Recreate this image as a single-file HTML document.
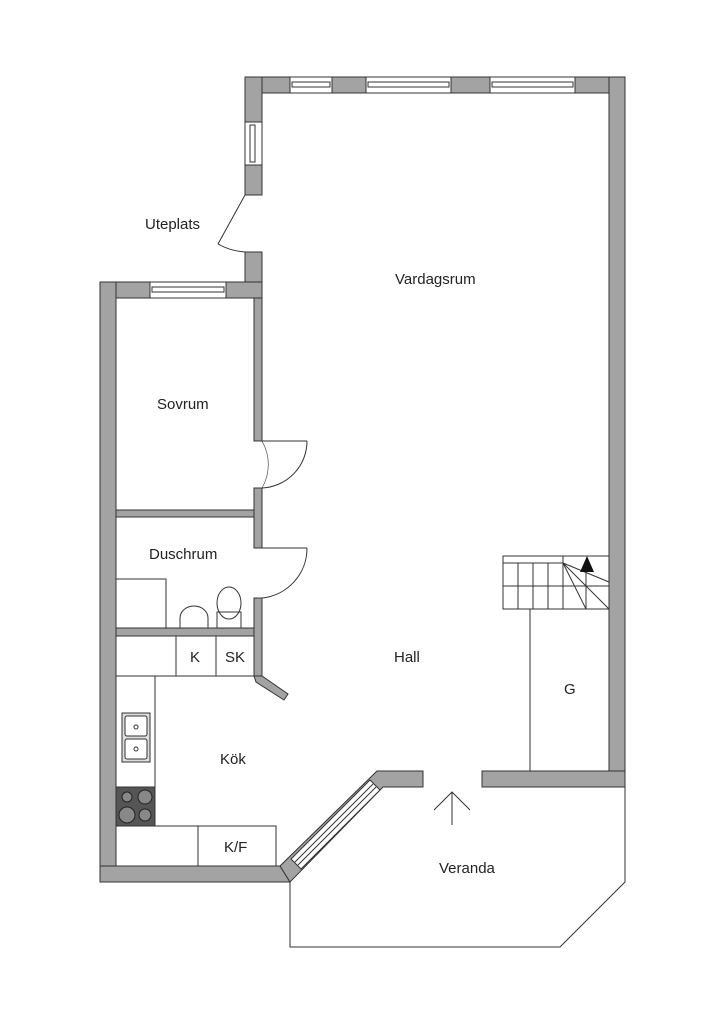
<!DOCTYPE html>
<html><head><meta charset="utf-8"><style>
html,body{margin:0;padding:0;background:#fff;}
svg{display:block;}
text{font-family:"Liberation Sans",sans-serif;font-size:15px;fill:#222;}
</style></head><body>
<svg width="724" height="1024" viewBox="0 0 724 1024" xmlns="http://www.w3.org/2000/svg">
<g fill="#a3a3a3" stroke="#333" stroke-width="1">
<rect x="245" y="77" width="380" height="16"/>
<rect x="245" y="77" width="17" height="118"/>
<rect x="245" y="252" width="17" height="46"/>
<rect x="609" y="77" width="16" height="710"/>
<rect x="100" y="282" width="162" height="16"/>
<rect x="100" y="282" width="16" height="600"/>
<polygon points="100,866 280,866 290,882 100,882"/>
<polygon points="280,866 377,771 423,771 423,787 383,787 290,882"/>
<rect x="482" y="771" width="143" height="16"/>
<rect x="254" y="298" width="8" height="143"/>
<rect x="254" y="488" width="8" height="60"/>
<rect x="254" y="598" width="8" height="78"/>
<rect x="116" y="510" width="138" height="7"/>
<rect x="116" y="628" width="138" height="8"/>
<polygon points="254,676 262,676 288,694 284,700 256,682"/>
</g>
<g fill="#fff" stroke="#333" stroke-width="1">
<rect x="290" y="77" width="42" height="16"/><rect x="292" y="82" width="38" height="5"/>
<rect x="366" y="77" width="85" height="16"/><rect x="368" y="82" width="81" height="5"/>
<rect x="490" y="77" width="85" height="16"/><rect x="492" y="82" width="81" height="5"/>
<rect x="245" y="122" width="17" height="43"/><rect x="250" y="125" width="5" height="37"/>
<rect x="150" y="282" width="76" height="16"/><rect x="152" y="287" width="72" height="5"/>
<polygon points="370,780 380,790 301,869 291,859"/>
<line x1="373" y1="784" x2="295" y2="862"/><line x1="376" y1="787" x2="298" y2="865"/>
</g>
<g fill="none" stroke="#333" stroke-width="1">
<line x1="245" y1="195" x2="218" y2="244"/><path d="M218,244 Q230,251 245,252"/>
<line x1="262" y1="441" x2="307" y2="441"/><path d="M307,441 A47,47 0 0 1 262,488"/>
<path d="M262,441 A47,47 0 0 1 262,488" stroke-width="0.6"/>
<line x1="262" y1="548" x2="307" y2="548"/><path d="M307,548 A50,50 0 0 1 262,598"/>
<polyline points="290,882 290,947 560,947 625,882 625,787"/>
<line x1="452" y1="825" x2="452" y2="792"/><polyline points="434,810 452,792 470,810"/>
<rect x="503" y="556" width="106" height="53"/>
<line x1="503" y1="563" x2="563" y2="563"/>
<line x1="503" y1="586" x2="609" y2="586"/>
<line x1="518" y1="563" x2="518" y2="609"/><line x1="533" y1="563" x2="533" y2="609"/>
<line x1="548" y1="563" x2="548" y2="609"/><line x1="563" y1="556" x2="563" y2="609"/>
<line x1="563" y1="563" x2="609" y2="582"/><line x1="563" y1="563" x2="609" y2="609"/>
<line x1="563" y1="563" x2="586" y2="609"/><line x1="586" y1="570" x2="586" y2="609"/>
<line x1="530" y1="609" x2="530" y2="771"/>
<polyline points="116,579 166,579 166,628"/>
<rect x="116" y="636" width="138" height="40"/>
<line x1="176" y1="636" x2="176" y2="676"/><line x1="216" y1="636" x2="216" y2="676"/>
<line x1="155" y1="676" x2="155" y2="826"/>
<rect x="116" y="826" width="160" height="40"/>
<line x1="198" y1="826" x2="198" y2="866"/>
<rect x="122" y="713" width="28" height="49" fill="#ddd"/>
<rect x="125" y="716" width="22" height="20" fill="#fff" rx="2"/>
<rect x="125" y="739" width="22" height="20" fill="#fff" rx="2"/>
<circle cx="136" cy="727" r="2"/><circle cx="136" cy="749" r="2"/>
<path d="M180,628 L180,618 A14,12 0 0 1 208,618 L208,628"/>
<ellipse cx="229" cy="603" rx="12" ry="16"/>
<rect x="217" y="612" width="24" height="16"/>
</g>
<rect x="116" y="787" width="39" height="39" fill="#555" stroke="#333"/>
<g fill="#888" stroke="#222"><circle cx="127" cy="797" r="5"/><circle cx="145" cy="797" r="7"/><circle cx="127" cy="815" r="8"/><circle cx="145" cy="815" r="6"/></g>
<polygon points="587,556 580,572 594,572" fill="#111"/>
<text x="145" y="229">Uteplats</text>
<text x="395" y="284">Vardagsrum</text>
<text x="157" y="409">Sovrum</text>
<text x="149" y="559">Duschrum</text>
<text x="190" y="662">K</text>
<text x="225" y="662">SK</text>
<text x="394" y="662">Hall</text>
<text x="564" y="694">G</text>
<text x="220" y="764">Kök</text>
<text x="224" y="852">K/F</text>
<text x="439" y="873">Veranda</text>
</svg>
</body></html>
